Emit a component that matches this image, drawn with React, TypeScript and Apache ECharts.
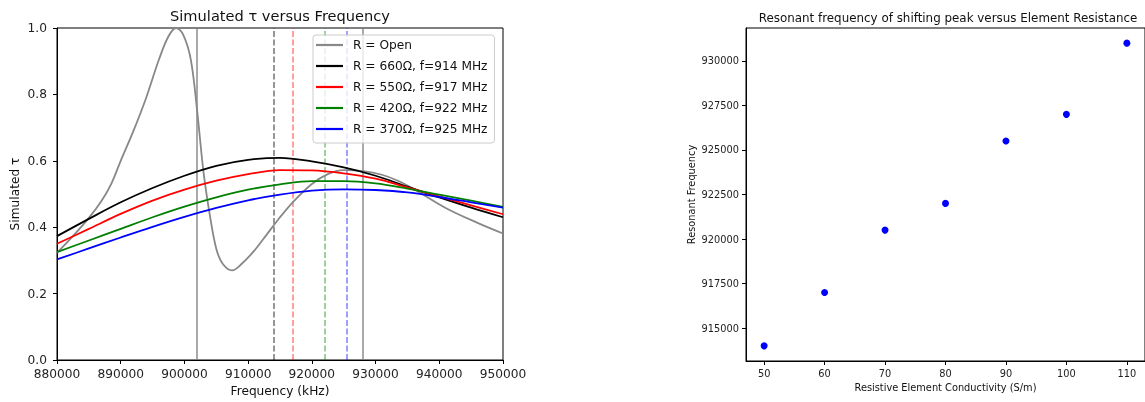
import React, { useEffect, useRef } from "react";
import * as echarts from "echarts";

// ---------- Left chart data ----------
const curveFreqs = [880000, 885000, 890000, 895000, 900000, 905000, 910000, 915000, 920000, 925000, 930000, 935000, 940000, 945000, 950000];
const tau660 = [0.373, 0.425, 0.475, 0.518, 0.555, 0.585, 0.603, 0.609, 0.598, 0.58, 0.555, 0.522, 0.49, 0.459, 0.43];
const tau550 = [0.35, 0.395, 0.44, 0.48, 0.513, 0.54, 0.56, 0.572, 0.571, 0.562, 0.546, 0.52, 0.493, 0.466, 0.439];
const tau420 = [0.325, 0.36, 0.395, 0.43, 0.462, 0.49, 0.513, 0.529, 0.539, 0.539, 0.532, 0.516, 0.498, 0.48, 0.461];
const tau370 = [0.303, 0.336, 0.369, 0.401, 0.431, 0.458, 0.481, 0.498, 0.51, 0.514, 0.512, 0.505, 0.491, 0.475, 0.459];

const openFreqs = [880000, 882500, 885000, 887000, 888500, 890000, 892000, 894000, 896000, 897500, 898700, 899800, 901000, 902000, 903000, 904000, 905000, 906000, 907500, 909000, 911000, 913000, 915000, 917000, 920000, 922500, 925000, 928000, 931000, 933500, 936000, 941000, 946000, 950000];
const openTau = [0.323, 0.373, 0.428, 0.48, 0.53, 0.6, 0.69, 0.79, 0.905, 0.975, 1.0, 0.98, 0.905, 0.75, 0.565, 0.435, 0.335, 0.29, 0.27, 0.29, 0.33, 0.38, 0.43, 0.475, 0.53, 0.56, 0.572, 0.569, 0.558, 0.54, 0.515, 0.458, 0.413, 0.381];

const openMarkers = [902000, 928000];
const peakFreqs = [914000, 917000, 922000, 925500];

const seriesNames = [
  "R = Open",
  "R = 660\u03A9, f=914 MHz",
  "R = 550\u03A9, f=917 MHz",
  "R = 420\u03A9, f=922 MHz",
  "R = 370\u03A9, f=925 MHz",
];

// ---------- Right chart data ----------
const conductivity = [50, 60, 70, 80, 90, 100, 110];
const resonantFreq = [914000, 917000, 920500, 922000, 925500, 927000, 931000];
const rightYTicks = [915000, 917500, 920000, 922500, 925000, 927500, 930000];
const rightXTicks = [50, 60, 70, 80, 90, 100, 110];

const FONT = "DejaVu Sans";

const zip = (xs: number[], ys: number[]) => xs.map((x, i) => [x, ys[i]]);

export default function App() {
  const ref = useRef<HTMLDivElement>(null);
  useEffect(() => {
    if (!ref.current) return;
    const chart = echarts.init(ref.current, undefined, { renderer: "svg" });
    const tickLabel = { color: "#222", fontFamily: FONT };
    const dashColors = ["rgba(0,0,0,0.55)", "rgba(255,0,0,0.5)", "rgba(0,128,0,0.5)", "rgba(0,0,255,0.5)"];
    const markData: any[] = [
      ...openMarkers.map((v) => ({ xAxis: v, lineStyle: { color: "rgba(128,128,128,0.75)", type: "solid", width: 1.8 } })),
      ...peakFreqs.map((v, i) => ({ xAxis: v, lineStyle: { color: dashColors[i], type: [6, 2.5], width: 1.5 } })),
    ];
    const lineColors = ["#888888", "#000000", "#ff0000", "#008000", "#0000ff"];
    const lineData = [
      zip(openFreqs, openTau),
      zip(curveFreqs, tau660),
      zip(curveFreqs, tau550),
      zip(curveFreqs, tau420),
      zip(curveFreqs, tau370),
    ];
    chart.setOption({
      animation: false,
      textStyle: { fontFamily: FONT },
      grid: [
        { left: 57, top: 28, width: 446, height: 333, show: true, borderColor: "#000", borderWidth: 1, backgroundColor: "transparent" },
        { left: 746, top: 28, right: -6, height: 333, show: true, borderColor: "#000", borderWidth: 1, backgroundColor: "transparent" },
      ],
      graphic: [
        { type: "text", x: 280, y: 15, style: { text: "Simulated \u03C4 versus Frequency", font: `14.6px "${FONT}"`, fill: "#111", textAlign: "center", textVerticalAlign: "middle" } },
        { type: "text", x: 948, y: 18, style: { text: "Resonant frequency of shifting peak versus Element Resistance", font: `11.9px "${FONT}"`, fill: "#111", textAlign: "center", textVerticalAlign: "middle" } },
      ],
      legend: {
        data: seriesNames.map((name) => ({ name, icon: "rect" })),
        orient: "vertical",
        left: 313,
        top: 35,
        itemWidth: 27,
        itemHeight: 2.2,
        itemGap: 7,
        padding: [3, 7, 7, 3],
        backgroundColor: "rgba(255,255,255,0.8)",
        borderColor: "#cccccc",
        borderWidth: 1,
        borderRadius: 3,
        selectedMode: false,
        textStyle: { fontFamily: FONT, fontSize: 12.2, lineHeight: 14, color: "#111", padding: [0, 0, 0, 5] },
      },
      xAxis: [
        {
          type: "value", gridIndex: 0, min: 880000, max: 950000, interval: 10000,
          name: "Frequency (kHz)", nameLocation: "middle", nameGap: 25,
          nameTextStyle: { fontFamily: FONT, fontSize: 12.2, color: "#111" },
          axisLine: { show: true, lineStyle: { color: "#000" } },
          axisTick: { show: true, length: 4, lineStyle: { color: "#000" } },
          axisLabel: { ...tickLabel, fontSize: 12.2, margin: 8, formatter: (v: number) => String(v), showMaxLabel: true, showMinLabel: true },
          splitLine: { show: false },
        },
        {
          type: "value", gridIndex: 1, min: 47, max: 113,
          name: "Resistive Element Conductivity (S/m)", nameLocation: "middle", nameGap: 20,
          nameTextStyle: { fontFamily: FONT, fontSize: 9.8, color: "#111" },
          axisLine: { show: true, lineStyle: { color: "#000" } },
          axisTick: { show: true, length: 4, customValues: rightXTicks, lineStyle: { color: "#000" } },
          axisLabel: { ...tickLabel, fontSize: 9.8, margin: 7, customValues: rightXTicks, formatter: (v: number) => String(v) },
          splitLine: { show: false },
        },
      ],
      yAxis: [
        {
          type: "value", gridIndex: 0, min: 0, max: 1, interval: 0.2,
          name: "Simulated \u03C4", nameLocation: "middle", nameGap: 36,
          nameTextStyle: { fontFamily: FONT, fontSize: 12.2, color: "#111" },
          axisLine: { show: true, lineStyle: { color: "#000" } },
          axisTick: { show: true, length: 4, lineStyle: { color: "#000" } },
          axisLabel: { ...tickLabel, fontSize: 12.2, margin: 10, formatter: (v: number) => v.toFixed(1) },
          splitLine: { show: false },
        },
        {
          type: "value", gridIndex: 1, min: 913150, max: 931850,
          name: "Resonant Frequency", nameLocation: "middle", nameGap: 50,
          nameTextStyle: { fontFamily: FONT, fontSize: 9.8, color: "#111" },
          axisLine: { show: true, lineStyle: { color: "#000" } },
          axisTick: { show: true, length: 4, customValues: rightYTicks, lineStyle: { color: "#000" } },
          axisLabel: { ...tickLabel, fontSize: 9.8, margin: 7, customValues: rightYTicks, formatter: (v: number) => String(v) },
          splitLine: { show: false },
        },
      ],
      series: [
        ...seriesNames.map((name, i) => ({
          name,
          type: "line",
          xAxisIndex: 0,
          yAxisIndex: 0,
          data: lineData[i],
          smooth: 0.35,
          symbol: "none",
          showSymbol: false,
          lineStyle: { color: lineColors[i], width: 1.8 },
          itemStyle: { color: lineColors[i] },
          z: 3,
          ...(i === 0
            ? { markLine: { silent: true, symbol: "none", label: { show: false }, animation: false, data: markData, z: 2 } }
            : {}),
        })),
        {
          name: "resonant",
          type: "scatter",
          xAxisIndex: 1,
          yAxisIndex: 1,
          data: zip(conductivity, resonantFreq),
          symbol: "circle",
          symbolSize: 7,
          itemStyle: { color: "#0000ff", opacity: 1 },
        },
      ],
    });
    return () => chart.dispose();
  }, []);
  return <div ref={ref} style={{ position: "fixed", left: 0, top: 0, width: 1145, height: 402 }} />;
}
